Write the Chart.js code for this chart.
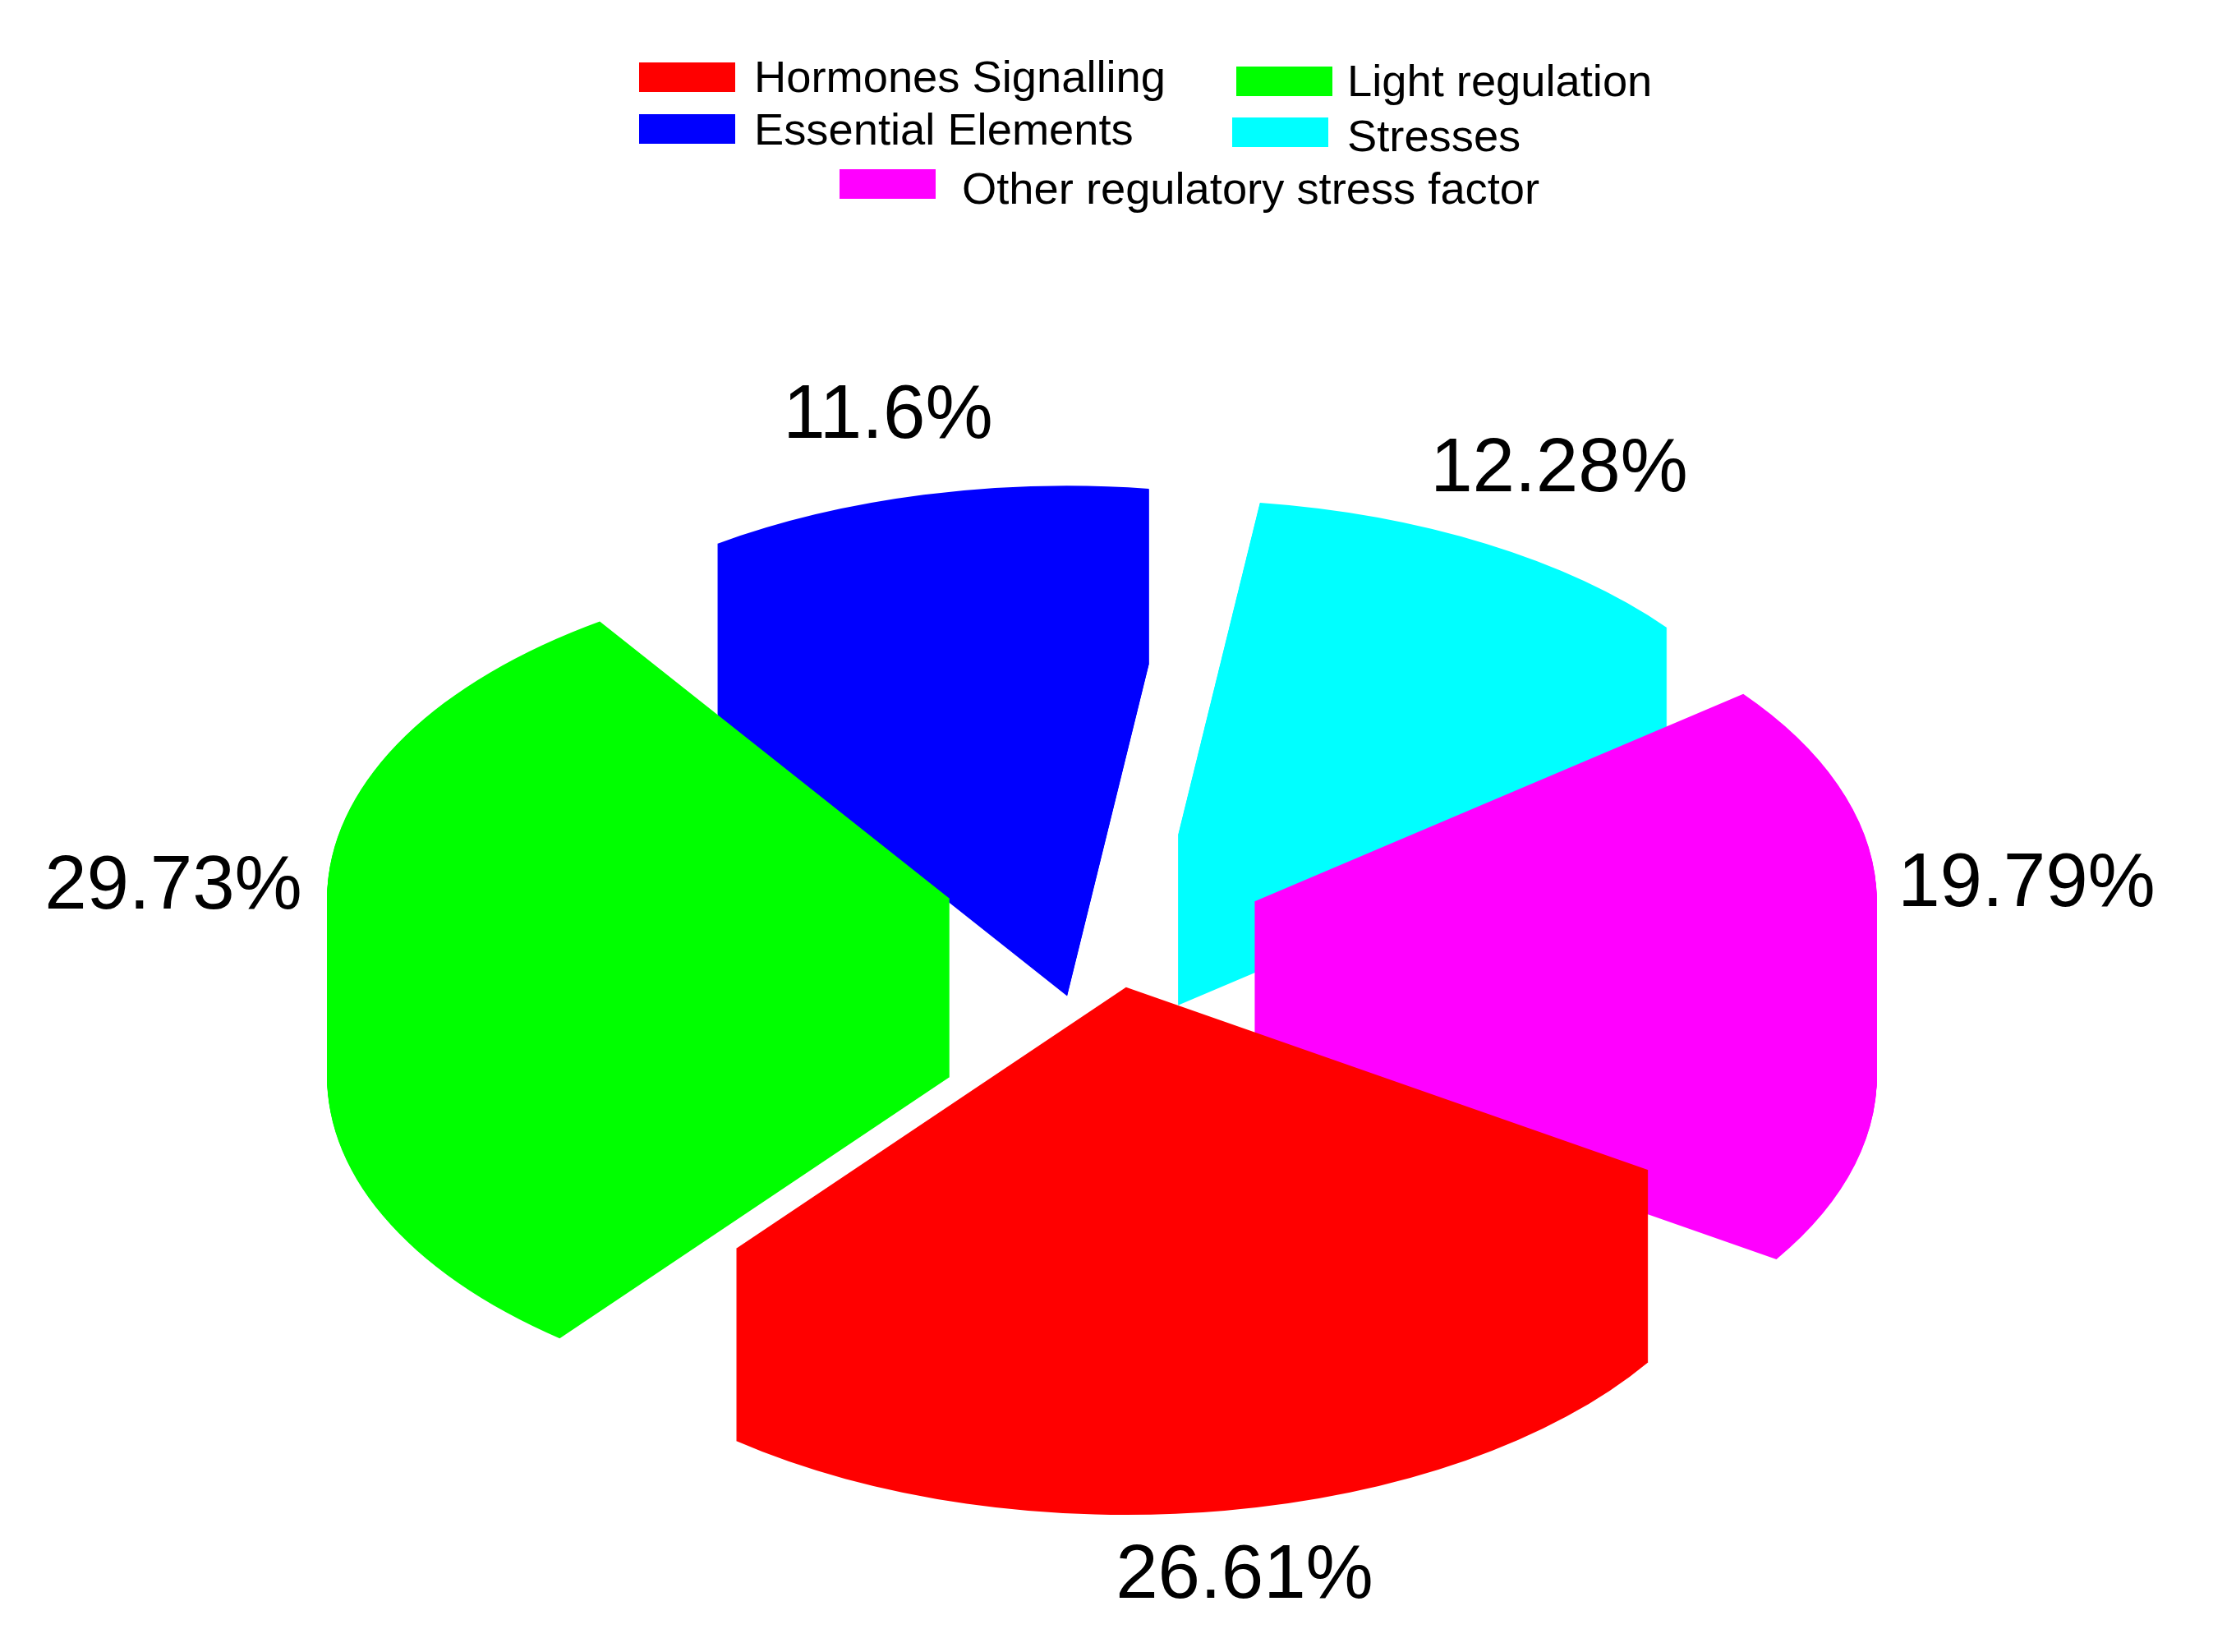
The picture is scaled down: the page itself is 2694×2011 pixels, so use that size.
<!DOCTYPE html>
<html>
<head>
<meta charset="utf-8">
<title>Pie</title>
<style>
  html, body { margin: 0; padding: 0; background: #fff; }
  canvas { display: block; }
</style>
<script src="https://cdn.jsdelivr.net/npm/chart.js@4"></script>
</head>
<body>
<canvas id="pie" width="2694" height="2011"></canvas>
<script>
// clockwise, starting at the red slice
const categories = ['Hormones Signalling', 'Light regulation', 'Essential Elements', 'Stresses', 'Other regulatory stress factor'];
const values = [26.61, 29.73, 11.6, 12.28, 19.79];
const colors = ['#ff0000', '#00ff00', '#0000ff', '#00ffff', '#ff00ff'];

// look of the tilted pie
const radius = 758;
const explode = 182;
const tilt = 0.5386;
const depths = [234, 217, 213, 207, 213];
// the slices in the picture are not pulled out quite evenly
const nudges = [[0, 5], [-4, -2], [-1, -5], [2, 2], [3, 2]];

// hand placed text, [x, y]
const valueLabelPos = [[1515, 1919], [211, 1080], [1081, 507], [1898, 572], [2467, 1077]];
const legendSwatchPos = [[778, 76], [1505, 81], [778, 139], [1500, 143], [1022, 206]];
const legendTextPos = [[918, 97], [1640, 102], [918, 161], [1640, 169], [1171, 233]];

const tiltedPie = {
    id: 'tiltedPie',
    beforeDatasetsDraw(chart) {
        const ctx = chart.ctx;
        const arcs = chart.getDatasetMeta(0).data;
        const mid = (a) => (a.startAngle + a.endAngle) / 2;
        // back slices first
        const order = arcs.map((a, i) => i).sort((i, j) => Math.sin(mid(arcs[i])) - Math.sin(mid(arcs[j])));
        order.forEach((i) => {
            const arc = arcs[i];
            // Chart.js shrinks and grows slices with its own offset option, so pull them out here
            const dx = Math.cos(mid(arc)) * explode;
            const dy = Math.sin(mid(arc)) * explode;
            for (let d = depths[i]; d >= 0; d--) {
                ctx.save();
                ctx.translate(arc.x + nudges[i][0], arc.y + nudges[i][1] + d);
                ctx.scale(1, tilt);
                ctx.translate(dx - arc.x, dy - arc.y);
                arc.draw(ctx);
                ctx.restore();
            }
        });
        return false;
    },
    afterDraw(chart) {
        const ctx = chart.ctx;
        ctx.save();
        ctx.fillStyle = '#000';
        ctx.textBaseline = 'middle';
        ctx.textAlign = 'center';
        ctx.font = '92.5px "Liberation Sans"';
        values.forEach((v, i) => {
            ctx.fillText(v + '%', valueLabelPos[i][0], valueLabelPos[i][1]);
        });
        ctx.textAlign = 'left';
        ctx.font = '54.3px "Liberation Sans"';
        categories.forEach((c, i) => {
            ctx.fillStyle = colors[i];
            ctx.fillRect(legendSwatchPos[i][0], legendSwatchPos[i][1], 117, 36);
            ctx.fillStyle = '#000';
            ctx.fillText(c, legendTextPos[i][0], legendTextPos[i][1]);
        });
        ctx.restore();
    }
};

new Chart(document.getElementById('pie'), {
    type: 'pie',
    data: {
        labels: categories,
        datasets: [{
            data: values,
            backgroundColor: colors,
            borderWidth: 0
        }]
    },
    options: {
        responsive: false,
        animation: false,
        rotation: 123,
        radius: radius,
        layout: { padding: { top: 189, right: 10 } },
        plugins: {
            legend: { display: false },
            tooltip: { enabled: false }
        }
    },
    plugins: [tiltedPie]
});
</script>
</body>
</html>
